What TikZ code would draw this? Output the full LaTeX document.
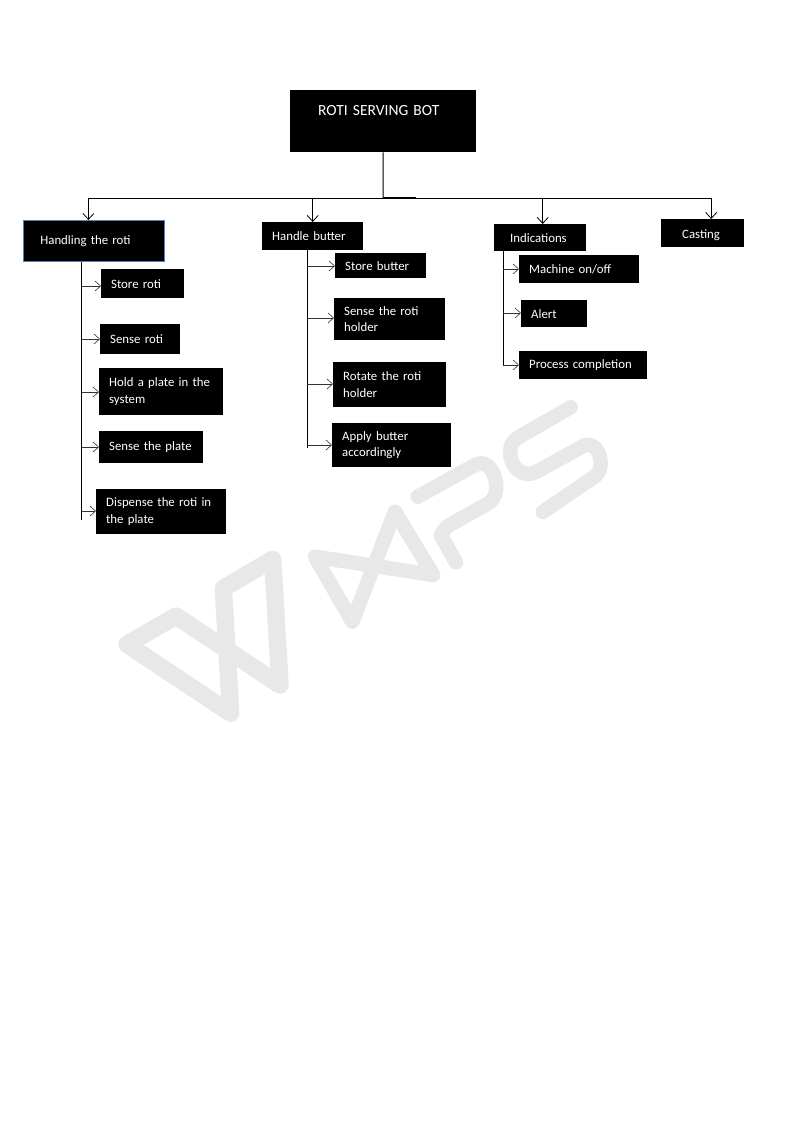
\documentclass[tikz,border=0pt]{standalone}
\usepackage{fontspec}
\setmainfont{Carlito}
\usepackage{xcolor}
\usetikzlibrary{arrows.meta, positioning, calc}
\definecolor{markgray}{HTML}{E8E8E8}
\definecolor{edgeblue}{HTML}{4F81BD}
\begin{document}
\begin{tikzpicture}[x=1pt, y=-1pt,
    box/.style 2 args={fill=black, text=white, anchor=north west, inner xsep=10, inner ysep=0,
        align=left, text width=#1-20, minimum height=#2, font=\fontsize{12.8}{16.5}\selectfont},
    spine/.style={line width=1pt},
    drop/.style={line width=0.8pt, -{Straight Barb[length=6pt, width=11pt]}},
    branch/.style={line width=0.6pt, black!80, -{Straight Barb[length=5.5pt, width=10pt]}}]
    \useasboundingbox (0,0) rectangle (793,1122);
    \begin{scope}[draw=markgray, line width=14.5pt, line join=round, line cap=round]
        \draw[line width=17.5pt] (230.7,713.3) -- (127,644.3) -- (176,616) -- (280,685) -- (272.7,559.3) -- (223.3,588.3) -- cycle;
        \draw (352.3,621.7) -- (395,511.7) -- (433.3,575) -- (315,556.7) -- cycle;
        \draw (456,562.3) -- (440.7,535) -- (446.7,526.7) -- (488.3,503.3)
            .. controls (505,493) and (493,455) .. (475,465) -- (417.7,496.7);
        \draw (570.7,407.3) -- (518.3,437.3) .. controls (500,448) and (515,483) .. (536.7,471.7)
            -- (581.7,446.7) .. controls (598,437) and (608,468) .. (594,477) -- (542.7,512);
    \end{scope}

    \node[box={186}{0}, text height=25, text depth=37, inner xsep=28, text width=130, font=\fontsize{15.5}{18}\selectfont] (bot) at (290,90) {ROTI SERVING BOT};

    \node[box={141}{41}, inner xsep=17, text width=107, draw=edgeblue, line width=0.8pt] (handling) at (23,220) {Handling the roti};
    \node[box={83}{29}] (storeroti) at (101,269) {Store roti};
    \node[box={80}{30}] (senseroti) at (100,324) {Sense roti};
    \node[box={124}{47}] (holdplate) at (99,368) {Hold a plate in the\\system};
    \node[box={104}{32}] (senseplate) at (99,431) {Sense the plate};
    \node[box={130}{45}] (dispense) at (96,489) {Dispense the roti in\\the plate};

    \node[box={101}{28}] (butter) at (262,222) {Handle butter};
    \node[box={91}{25}] (storebutter) at (335,253) {Store butter};
    \node[box={111}{42}] (senseholder) at (334,298) {Sense the roti\\holder};
    \node[box={113}{45}] (rotateholder) at (333,362) {Rotate the roti\\holder};
    \node[box={119}{44}] (applybutter) at (332,423) {Apply butter\\accordingly};

    \node[box={92}{27}, inner xsep=16, text width=60] (indications) at (494,224) {Indications};
    \node[box={120}{28}] (machine) at (519,255) {Machine on/off};
    \node[box={66}{27}] (alert) at (521,300) {Alert};
    \node[box={128}{28}] (process) at (519,351) {Process completion};

    \node[box={83}{28}, inner xsep=21, text width=41, text height=19, text depth=9] (casting) at (661,219) {Casting};

    \coordinate (bus) at (383,198);
    \coordinate (busmid) at (416,198);
    \coordinate (rotiend) at (81.5,520);
    \coordinate (butterend) at (307,448);
    \coordinate (indend) at (503,365);

    \draw[spine] (bot.south) -- (bus);
    \draw[spine, line width=1.6pt] (bus) -- (busmid);
    \draw[drop] (bus) -| ([xshift=-5.5]handling.north);
    \draw[drop] (bus) -| (butter.north);
    \draw[drop] (bus) -| ([xshift=2.5]indications.north);
    \draw[drop] (bus) -| ([xshift=8.5]casting.north);

    \draw[spine] (rotiend |- handling.south) -- (rotiend);
    \draw[spine] (butterend |- butter.south) -- (butterend);
    \draw[spine] (indend |- indications.south) -- (indend);

    \foreach \name/\ypos in {storeroti/286, senseroti/339, holdplate/392, senseplate/447, dispense/511}
        \draw[branch] (rotiend |- 0,\ypos) -- (\name.west |- 0,\ypos);
    \foreach \name/\ypos in {storebutter/266, senseholder/318, rotateholder/384, applybutter/445}
        \draw[branch] (butterend |- 0,\ypos) -- (\name.west |- 0,\ypos);
    \foreach \name/\ypos in {machine/269, alert/313, process/365}
        \draw[branch] (indend |- 0,\ypos) -- (\name.west |- 0,\ypos);
\end{tikzpicture}
\end{document}
